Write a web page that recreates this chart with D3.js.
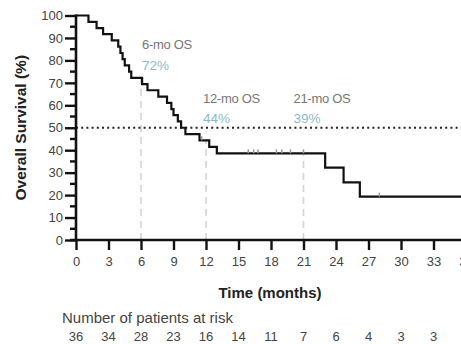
<!DOCTYPE html>
<html>
<head>
<meta charset="utf-8">
<script src="https://cdn.jsdelivr.net/npm/d3@7"></script>
<style>
  body { margin: 0; background: #fff; }
  svg { display: block; font-family: "Liberation Sans", Arial, sans-serif; }
</style>
</head>
<body>
<div id="chart"></div>
<script>
// KM curve: time of each drop (months) and survival after it (%)
const eventTimes = [1.15, 1.9, 2.5, 3.3, 3.9, 4.1, 4.3, 4.5, 4.9, 5.1, 6.1, 6.6, 7.6, 8.4, 8.8, 9.0, 9.4, 9.7, 10.1, 11.4, 12.3, 13.0, 23.0, 24.7, 26.2];
const survival   = [97.2, 94.4, 91.7, 88.9, 86.1, 83.3, 80.6, 77.8, 75.0, 72.2, 69.4, 66.7, 63.9, 61.1, 58.3, 55.6, 52.8, 50.0, 47.2, 44.4, 41.5, 38.6, 32.2, 25.7, 19.3];
const censorTimes = [11.6, 15.9, 16.4, 16.8, 18.5, 19.0, 19.8, 21.0, 28.0];

const landmarks = [6, 12, 21];
const landmarkLabels = ["6-mo OS", "12-mo OS", "21-mo OS"];
const landmarkPct = ["72%", "44%", "39%"];

const xTicks = [0, 3, 6, 9, 12, 15, 18, 21, 24, 27, 30, 33, 36];
const atRisk = [36, 34, 28, 23, 16, 14, 11, 7, 6, 4, 3, 3, 1];

const width = 461, height = 344;

const x = d3.scaleLinear().domain([0, 36]).range([76, 466]);
const y = d3.scaleLinear().domain([0, 100]).range([240, 15.5]);

const svg = d3.select("#chart").append("svg")
    .attr("width", width)
    .attr("height", height);

svg.append("rect").attr("width", width).attr("height", height).attr("fill", "#fff");

// survival at time t (step function)
const survAt = (t) => {
    let s = 100;
    eventTimes.forEach((et, i) => { if (et <= t) s = survival[i]; });
    return s;
};

// landmark dashed lines
svg.append("g")
    .selectAll("line")
    .data(landmarks)
    .join("line")
    .attr("x1", d => x(d)).attr("x2", d => x(d))
    .attr("y1", y(0)).attr("y2", d => y(survAt(d)))
    .attr("stroke", "#d4d4d4")
    .attr("stroke-width", 1.6)
    .attr("stroke-dasharray", "7,5");

// median line
svg.append("line")
    .attr("x1", x(0)).attr("x2", width)
    .attr("y1", y(50)).attr("y2", y(50))
    .attr("stroke", "#222")
    .attr("stroke-width", 2)
    .attr("stroke-dasharray", "2,3.2");

// y axis
const yAxis = svg.append("g")
    .attr("transform", `translate(${x(0)},0)`);
yAxis.call(d3.axisLeft(y).tickValues(d3.range(0, 101, 10)).tickSize(11).tickPadding(2))
    .call(g => g.select(".domain").attr("stroke", "#111").attr("stroke-width", 2.6).attr("d", `M0,${y(100) - 1}V${y(0)}`))
    .call(g => g.selectAll(".tick line").attr("stroke", "#111").attr("stroke-width", 2.4))
    .call(g => g.selectAll(".tick text").attr("fill", "#444").attr("font-size", 13).attr("font-family", "Liberation Sans, Arial, sans-serif"));
yAxis.selectAll(".minor")
    .data(d3.range(5, 100, 10))
    .join("line")
    .attr("class", "minor")
    .attr("x1", -6).attr("x2", 0)
    .attr("y1", d => y(d)).attr("y2", d => y(d))
    .attr("stroke", "#111").attr("stroke-width", 2.4);

// x axis
svg.append("g")
    .attr("transform", `translate(0,${y(0)})`)
    .call(d3.axisBottom(x).tickValues(xTicks).tickSize(10).tickPadding(7))
    .call(g => g.select(".domain").attr("stroke", "#111").attr("stroke-width", 2.6).attr("d", `M${x(0) - 6},0H${width}`))
    .call(g => g.selectAll(".tick line").attr("stroke", "#111").attr("stroke-width", 2.4))
    .call(g => g.selectAll(".tick text").attr("fill", "#444").attr("font-size", 13).attr("font-family", "Liberation Sans, Arial, sans-serif"));

// KM curve
const pts = [[0, 100]].concat(eventTimes.map((t, i) => [t, survival[i]]), [[36, survival[survival.length - 1]]]);
svg.append("path")
    .datum(pts)
    .attr("fill", "none")
    .attr("stroke", "#111")
    .attr("stroke-width", 2.2)
    .attr("d", d3.line().x(d => x(d[0])).y(d => y(d[1])).curve(d3.curveStepAfter));

// censor marks
svg.append("g")
    .selectAll("line")
    .data(censorTimes)
    .join("line")
    .attr("x1", d => x(d)).attr("x2", d => x(d))
    .attr("y1", d => y(survAt(d)) - 4).attr("y2", d => y(survAt(d)))
    .attr("stroke", "#999")
    .attr("stroke-width", 1.5);

// landmark annotations
const labelDx = [1, -3, -10];
const labelY = [[49, 70], [103, 123], [103, 123]];
const ann = svg.append("g").selectAll("g")
    .data(landmarks)
    .join("g");
ann.append("text")
    .attr("x", (d, i) => x(d) + labelDx[i])
    .attr("y", (d, i) => labelY[i][0])
    .attr("fill", "#777")
    .attr("font-size", 13)
    .attr("letter-spacing", -0.3)
    .text((d, i) => landmarkLabels[i]);
ann.append("text")
    .attr("x", (d, i) => x(d) + labelDx[i])
    .attr("y", (d, i) => labelY[i][1])
    .attr("fill", "#8db9cc")
    .attr("font-size", 13.5)
    .text((d, i) => landmarkPct[i]);

// axis titles
svg.append("text")
    .attr("transform", `translate(26,${(y(0) + y(100)) / 2}) rotate(-90)`)
    .attr("text-anchor", "middle")
    .attr("font-size", 15.5)
    .attr("font-weight", "bold")
    .attr("fill", "#222")
    .text("Overall Survival (%)");

svg.append("text")
    .attr("x", 270)
    .attr("y", 298)
    .attr("text-anchor", "middle")
    .attr("font-size", 15)
    .attr("font-weight", "bold")
    .attr("fill", "#222")
    .text("Time (months)");

// risk table
svg.append("text")
    .attr("x", 62)
    .attr("y", 323)
    .attr("font-size", 15)
    .attr("fill", "#444")
    .text("Number of patients at risk");

svg.append("g")
    .selectAll("text")
    .data(atRisk)
    .join("text")
    .attr("x", (d, i) => x(xTicks[i]))
    .attr("y", 341)
    .attr("text-anchor", "middle")
    .attr("font-size", 13)
    .attr("fill", "#444")
    .text(d => d);
</script>
</body>
</html>
